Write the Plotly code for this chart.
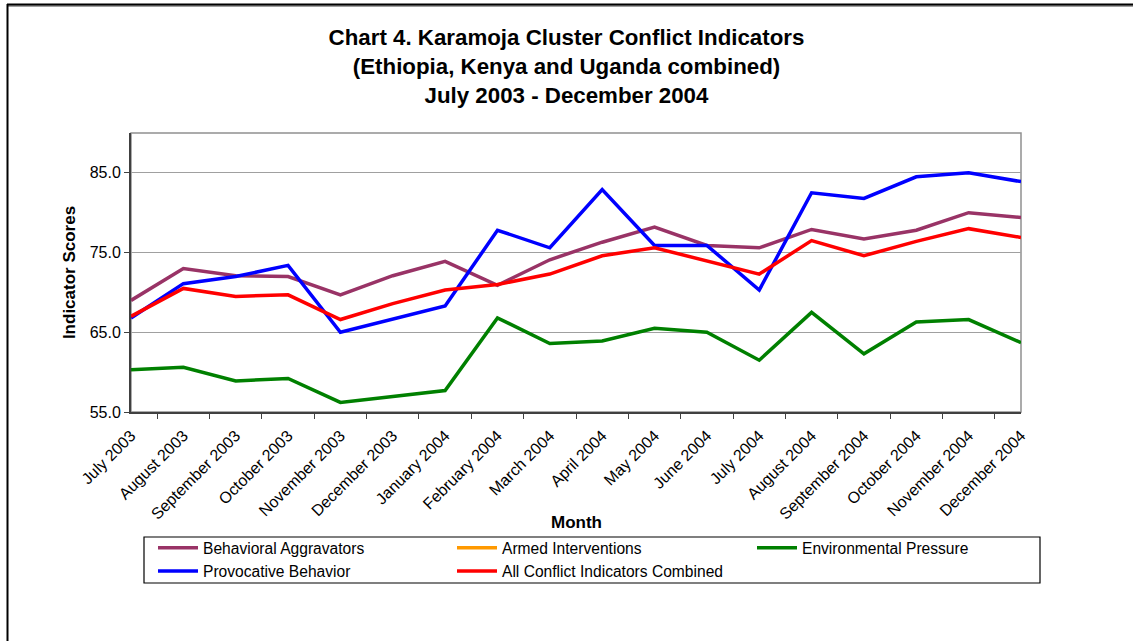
import plotly.graph_objects as go

# months on the x axis
months = ["July 2003", "August 2003", "September 2003", "October 2003", "November 2003",
          "December 2003", "January 2004", "February 2004", "March 2004", "April 2004",
          "May 2004", "June 2004", "July 2004", "August 2004", "September 2004",
          "October 2004", "November 2004", "December 2004"]

# indicator scores
behavioral = [69.0, 73.0, 72.1, 72.0, 69.7, 72.1, 73.9, 70.9, 74.1, 76.3,
              78.2, 75.9, 75.6, 77.9, 76.7, 77.8, 80.0, 79.4]
armed = [None] * 18  # no values plotted in the original
environmental = [60.3, 60.6, 58.9, 59.2, 56.2, 56.9, 57.7, 66.8, 63.6, 63.9,
                 65.5, 65.0, 61.5, 67.5, 62.3, 66.3, 66.6, 63.7]
provocative = [66.8, 71.1, 72.0, 73.4, 65.0, 66.7, 68.3, 77.8, 75.6, 82.9,
               75.9, 75.9, 70.3, 82.5, 81.8, 84.5, 85.0, 83.9]
combined = [67.0, 70.5, 69.5, 69.7, 66.6, 68.6, 70.3, 71.0, 72.3, 74.6,
            75.6, 73.9, 72.3, 76.5, 74.6, 76.4, 78.0, 76.9]

yticks = [55, 65, 75, 85]

# (name, values, colour, legend column)
series = [
    ("Behavioral Aggravators", behavioral, "#993366", "legend"),
    ("Armed Interventions", armed, "#FF9900", "legend2"),
    ("Environmental Pressure", environmental, "#008000", "legend3"),
    ("Provocative Behavior", provocative, "#0000FF", "legend"),
    ("All Conflict Indicators Combined", combined, "#FF0000", "legend2"),
]

FONT = "Liberation Sans, Arial, sans-serif"

fig = go.Figure()
for name, vals, col, lg in series:
    fig.add_trace(go.Scatter(x=months, y=vals, name=name, mode="lines",
                             line=dict(color=col, width=3.5), legend=lg))

# plot area is 131..1021 px wide, 133..412 px high
L, R, T, B = 131, 1021, 133, 412
W, H = 1133, 641
pw, ph = R - L, B - T

def px(x):
    return (x - L) / pw

def py(y):
    return (B - y) / ph

def legend_at(xpix):
    return dict(orientation="v", x=px(xpix), y=py(531), xanchor="left", yanchor="top",
                borderwidth=0, bgcolor="rgba(0,0,0,0)", itemwidth=40,
                font=dict(size=15.6, family=FONT), traceorder="normal")

fig.update_layout(
    width=W, height=H,
    margin=dict(l=L, r=W - R, t=T, b=H - B, autoexpand=False),
    paper_bgcolor="white", plot_bgcolor="white",
    font=dict(family=FONT, color="black"),
    title=dict(text="<b>Chart 4. Karamoja Cluster Conflict Indicators<br>"
                    "(Ethiopia, Kenya and Uganda combined)<br>"
                    "July 2003 - December 2004</b>",
               x=0.5, xref="container", xanchor="center",
               y=1 - 45 / H, yanchor="top",
               font=dict(size=22.3, family=FONT)),
    showlegend=True,
    legend=legend_at(153),
    legend2=legend_at(452),
    legend3=legend_at(752),
    xaxis=dict(type="category", tickangle=-45, tickson="boundaries",
               ticks="outside", ticklen=5, tickcolor="#404040",
               ticklabelstandoff=6, automargin=False,
               showline=True, linecolor="#404040", linewidth=2,
               showgrid=False, tickfont=dict(size=16)),
    yaxis=dict(range=[55, 90], tickvals=yticks,
               ticktext=[f"{v:.1f}" for v in yticks],
               ticks="outside", ticklen=5, tickcolor="#404040", automargin=False,
               showline=True, linecolor="#404040", linewidth=2,
               showgrid=True, gridcolor="#a0a0a0", gridwidth=1,
               zeroline=False, tickfont=dict(size=16),
               title=dict(text="<b>Indicator Scores</b>", font=dict(size=17), standoff=10)),
)

# x axis title sits between the tick labels and the legend box
fig.add_annotation(text="<b>Month</b>", xref="paper", yref="paper", x=0.5, y=py(522),
                   xanchor="center", yanchor="middle", showarrow=False,
                   font=dict(size=17, family=FONT))

# light grey frame round the plot area
fig.add_shape(type="rect", xref="paper", yref="paper", x0=0, x1=1, y0=0, y1=1,
              line=dict(color="#909090", width=1.5), layer="below")
# legend box
fig.add_shape(type="rect", xref="paper", yref="paper", x0=px(144), x1=px(1040),
              y0=py(583), y1=py(537), line=dict(color="black", width=1.2))
# chart border on top and left
fig.add_shape(type="line", xref="paper", yref="paper", x0=px(7), x1=px(1140),
              y0=py(6), y1=py(6), line=dict(color="#a0a0a0", width=2))
fig.add_shape(type="line", xref="paper", yref="paper", x0=px(7), x1=px(1140),
              y0=py(4.5), y1=py(4.5), line=dict(color="black", width=2))
fig.add_shape(type="line", xref="paper", yref="paper", x0=px(7.5), x1=px(7.5),
              y0=py(4), y1=py(645), line=dict(color="black", width=2))

fig.write_html("out.html", config={"displayModeBar": False},
               post_script="document.body.style.margin='0';")
